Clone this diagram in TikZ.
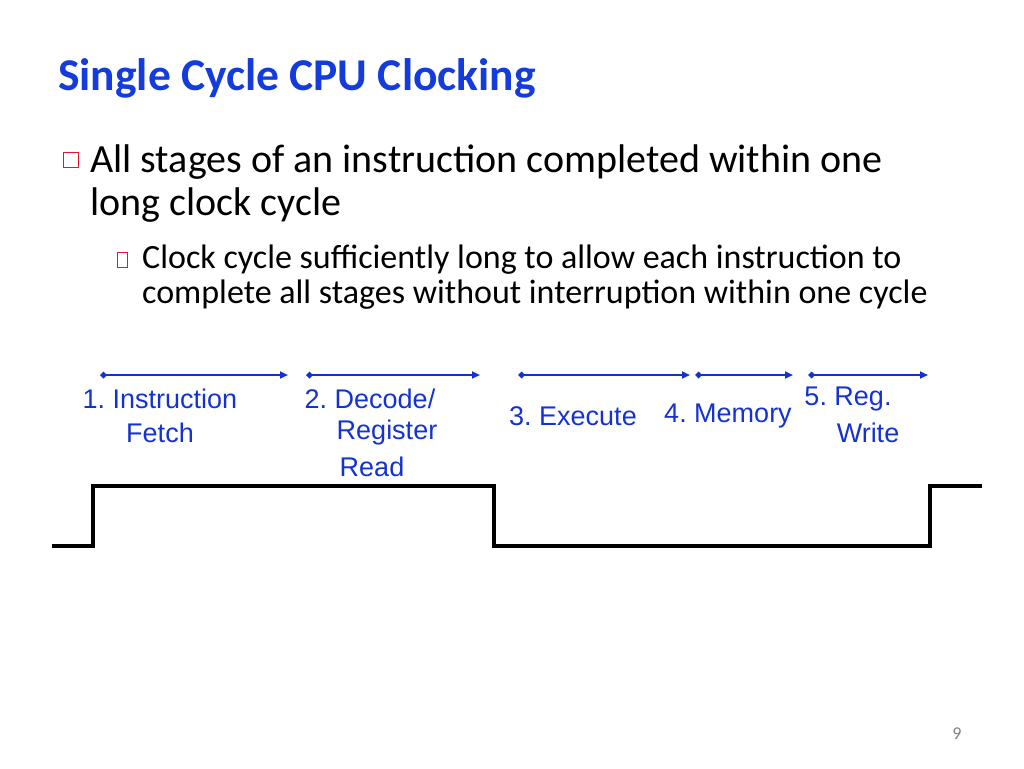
\documentclass[tikz,border=0pt]{standalone}
\usepackage{fontspec}
\setmainfont{Carlito}
\newfontfamily\arial{Liberation Sans}
\usetikzlibrary{arrows.meta}
\definecolor{ttl}{RGB}{20,60,220}
\definecolor{arr}{RGB}{20,50,210}
\definecolor{bred}{RGB}{230,20,50}
\tikzset{
  lbl/.style={font=\arial\fontsize{27pt}{30pt}\selectfont, text=arr, inner sep=0pt},
  big/.style={anchor=base west, inner sep=0pt, font=\fontsize{40pt}{44pt}\selectfont},
  small/.style={anchor=base west, inner sep=0pt, font=\fontsize{34pt}{38pt}\selectfont},
  stage/.style={draw=arr, line width=2pt, {Diamond[length=7pt,width=7pt]}-{Triangle[length=8pt,width=7pt]}},
}
\begin{document}
\begin{tikzpicture}[x=1pt,y=-1pt]
\useasboundingbox (0,0) rectangle (1024,768);
\node[anchor=base west, inner sep=0pt, text=ttl, font=\bfseries\fontsize{45.5pt}{48pt}\selectfont] (title) at (58,90) {Single Cycle CPU Clocking};
\node[draw=bred, line width=1.8pt, minimum size=15pt, inner sep=0pt] (b1) at (71,160) {};
\node[big] (t1a) at (90,172) {All stages of an instruction completed within one};
\node[big] (t1b) at (90,215) {long clock cycle};
\node[draw=bred, line width=1pt, minimum width=10pt, minimum height=15pt, inner sep=0pt] (b2) at (122,260) {};
\node[small] (t2a) at (142,268) {Clock cycle sufficiently long to allow each instruction to};
\node[small] (t2b) at (142,303) {complete all stages without interruption within one cycle};
\coordinate (a1) at (100,375); \coordinate (a2) at (288,375);
\coordinate (b1s) at (306,375); \coordinate (b2e) at (480,375);
\coordinate (c1) at (518,375); \coordinate (c2) at (690,375);
\coordinate (d1) at (695,375); \coordinate (d2) at (793,375);
\coordinate (e1) at (808,375); \coordinate (e2) at (928,375);
\draw[stage] (a1) -- (a2);
\draw[stage] (b1s) -- (b2e);
\draw[stage] (c1) -- (c2);
\draw[stage] (d1) -- (d2);
\draw[stage] (e1) -- (e2);
\node[lbl] (l1a) at (160,399) {1.~Instruction};
\node[lbl] (l1b) at (160,433) {Fetch};
\node[lbl] (l2a) at (370,399) {2.~Decode/};
\node[lbl] (l2b) at (387,433) {Register};
\node[lbl] (l2c) at (372,467) {Read};
\node[lbl] (l3) at (573,416) {3.~Execute};
\node[lbl] (l4) at (728,416) {4.~Memory};
\node[lbl] (l5a) at (848,399) {5.~Reg.};
\node[lbl] (l5b) at (868,433) {Write};
\draw[line width=3.5pt, line join=miter] (52,546) -- (93,546) -- (93,486) -- (494,486) -- (494,546) -- (930,546) -- (930,486) -- (982,486);
\node[text=gray, font=\fontsize{18pt}{20pt}\selectfont] (pg) at (957,734) {9};
\end{tikzpicture}
\end{document}
